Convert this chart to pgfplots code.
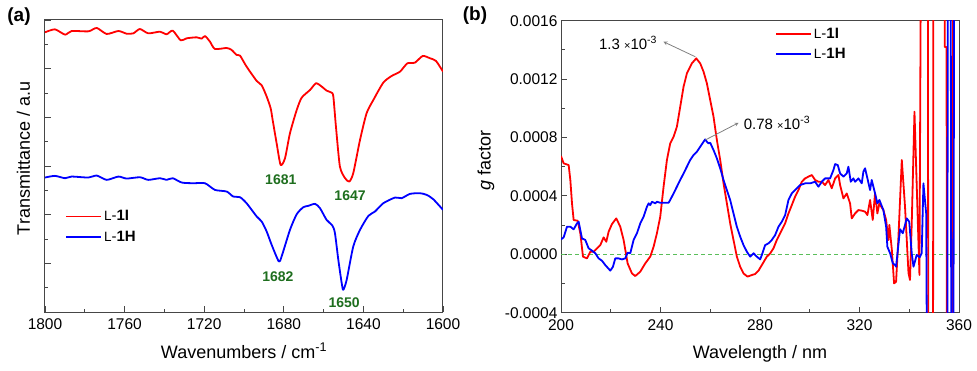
\documentclass[border=0pt]{standalone}
\usepackage{fontspec}
\setmainfont{Liberation Sans}
\usepackage{pgfplots}
\pgfplotsset{compat=1.18}
\definecolor{peakgreen}{RGB}{30,110,30}
\definecolor{zerogreen}{RGB}{90,190,90}
\definecolor{framegray}{RGB}{70,70,70}
\pgfplotsset{
  spec/.style={
    scale only axis, width=398pt, height=292pt, anchor=south west,
    tick align=inside, tick pos=left,
    major tick length=6pt, minor tick length=3.5pt,
    axis line style={framegray, line width=1pt},
    tick style={framegray, line width=0.8pt},
    minor x tick num=1, minor y tick num=1,
    tick label style={font=\fontsize{15.5}{18}\selectfont},
    xticklabel style={yshift=-3pt},
    label style={font=\fontsize{18}{21}\selectfont},
    /pgf/number format/assume math mode=true,
    /pgf/number format/1000 sep={},
    legend style={draw=none, fill=none, font=\fontsize{15}{17}\selectfont, row sep=4.5pt, anchor=north west},
    legend cell align=left,
    legend image code/.code={\draw[##1] (0pt,0pt) -- (35pt,0pt);},
    every axis plot/.append style={line width=1.8pt, line join=round},
  },
}
\newcommand{\LI}{{\fontsize{13.5}{15}\selectfont L}-\textbf{1I}}
\newcommand{\LH}{{\fontsize{13.5}{15}\selectfont L}-\textbf{1H}}
\begin{document}
\begin{tikzpicture}
\useasboundingbox (0pt,0pt) rectangle (977pt,370pt);
% (a) FTIR
\begin{axis}[spec, at={(45pt,58pt)},
  xmin=1600, xmax=1800, x dir=reverse,
  ymin=0, ymax=6,
  xtick={1600,1640,...,1800},
  ytick={0,1,...,6}, yticklabels={,,,,,,},
  xlabel={Wavenumbers / cm\textsuperscript{-1}},
  ylabel={Transmittance / a.u},
  xlabel style={at={(axis description cs:0.5,-0.158)}, anchor=base},
  ylabel style={at={(axis description cs:-0.038,0.526)}, anchor=base},
  legend style={at={(0.043,0.362)}},
]
\addplot[red, smooth, tension=0.4] coordinates {
(1800,5.747) (1795.0,5.808) (1789.9,5.699) (1786.6,5.774) (1778.2,5.767) (1774.0,5.836)
(1769.0,5.713) (1763.1,5.774) (1759.0,5.719) (1755.6,5.726) (1752.3,5.815) (1748.1,5.726)
(1742.2,5.760) (1738.9,5.706) (1735.8,5.781) (1731.8,5.582) (1728.8,5.624) (1723.8,5.644)
(1721.3,5.617) (1719.6,5.671) (1717.1,5.555) (1714.6,5.405) (1708.7,5.425) (1706.2,5.384)
(1703.7,5.281) (1702.0,5.268) (1698.7,5.042) (1693.6,4.747) (1691.1,4.658) (1688.6,4.426)
(1686.6,4.186) (1685.6,3.946) (1683.6,3.467) (1681.6,3.023) (1679.4,3.159) (1676.9,3.673)
(1673.5,4.152) (1671.0,4.405) (1666.8,4.563) (1663.8,4.700) (1660.9,4.631) (1658.5,4.549)
(1656.0,4.508) (1655.1,4.426) (1653.8,3.810) (1651.8,2.988) (1649.2,2.749) (1647.1,2.680)
(1645.1,2.851) (1641.7,3.536) (1638.4,4.084) (1635.0,4.357) (1630.0,4.713) (1625.8,4.850)
(1621.6,4.939) (1617.9,5.110) (1614.1,5.124) (1610.2,5.261) (1606.5,5.213) (1603.5,5.158)
(1600,4.939)};
\addlegendentry{\LI}
\addplot[blue, smooth, tension=0.4] coordinates {
(1800,2.763) (1795.0,2.797) (1789.9,2.749) (1786.6,2.783) (1778.2,2.763) (1774.0,2.804)
(1769.0,2.715) (1763.1,2.783) (1759.0,2.742) (1752.3,2.769) (1748.1,2.715) (1742.2,2.749)
(1738.9,2.715) (1735.8,2.749) (1731.3,2.660) (1725.5,2.646) (1719.6,2.646) (1714.6,2.509)
(1708.7,2.475) (1705.4,2.372) (1702.0,2.359) (1698.7,2.235) (1693.6,1.962) (1691.1,1.859)
(1688.6,1.654) (1686.1,1.380) (1682.5,1.038) (1681.1,1.140) (1676.9,1.688) (1673.5,2.010)
(1670.2,2.153) (1667.7,2.181) (1664.3,2.222) (1661.8,2.133) (1658.5,1.893) (1655.6,1.777)
(1654.3,1.620) (1652.6,1.072) (1650.9,0.593) (1650.1,0.456) (1648.4,0.661) (1645.1,1.346)
(1641.7,1.688) (1637.5,1.975) (1634.2,2.064) (1630.0,2.235) (1624.1,2.352) (1620.8,2.338)
(1616.6,2.427) (1611.6,2.441) (1608.2,2.407) (1604.9,2.318) (1600,2.099)};
\addlegendentry{\LH}
\node[peakgreen, font=\fontsize{14}{16}\selectfont\bfseries] at (axis cs:1681.5,2.715) {1681};
\node[peakgreen, font=\fontsize{14}{16}\selectfont\bfseries] at (axis cs:1646.7,2.386) {1647};
\node[peakgreen, font=\fontsize{14}{16}\selectfont\bfseries] at (axis cs:1683,0.729) {1682};
\node[peakgreen, font=\fontsize{14}{16}\selectfont\bfseries] at (axis cs:1649.7,0.195) {1650};
\end{axis}
% (b) g factor
\begin{axis}[spec, at={(561pt,57.3pt)},
  xmin=200, xmax=360, ymin=-0.0004, ymax=0.0016,
  xtick={200,240,...,360},
  ytick={-0.0004,0,0.0004,0.0008,0.0012,0.0016},
  scaled y ticks=false,
  yticklabel style={/pgf/number format/.cd, fixed, fixed zerofill, precision=4},
  xlabel={Wavelength / nm},
  ylabel={\textit{g} factor},
  xlabel style={at={(axis description cs:0.5,-0.158)}, anchor=base},
  ylabel style={at={(axis description cs:-0.177,0.52)}, anchor=base},
  legend style={at={(0.530,0.99)}},
]
\addplot[zerogreen, line width=0.9pt, dash pattern=on 4pt off 3pt, forget plot] coordinates {(200,0) (360,0)};
\addplot[red] coordinates {
(200.0,6.73e-4) (201.07,6.23e-4) (203.08,6.11e-4) (203.75,5.09e-4) (204.42,3.49e-4) (205.09,2.35e-4)
(206.69,2.30e-4) (207.77,1.44e-4) (208.84,-0.16e-4) (210.44,-0.28e-4) (211.78,0.18e-4) (213.12,0.18e-4)
(214.46,0.41e-4) (215.80,0.63e-4) (217.14,1.16e-4) (218.21,0.86e-4) (219.15,1.55e-4) (220.48,2.07e-4)
(222.22,2.46e-4) (223.83,1.89e-4) (225.17,0.98e-4) (226.78,-0.62e-4) (228.52,-1.31e-4) (229.86,-1.49e-4)
(231.87,-1.19e-4) (233.87,-0.62e-4) (235.88,-0.16e-4) (237.22,0.52e-4) (238.56,1.44e-4) (239.90,2.58e-4)
(241.24,4.63e-4) (242.58,6.46e-4) (243.91,7.60e-4) (245.25,8.05e-4) (246.59,8.74e-4) (247.93,10.11e-4)
(249.27,11.48e-4) (250.61,12.39e-4) (252.62,13.08e-4) (254.36,13.42e-4) (255.96,13.08e-4) (257.30,12.51e-4)
(258.64,11.71e-4) (259.98,10.57e-4) (261.32,9.42e-4) (262.66,7.83e-4) (264.00,6.46e-4) (265.34,4.86e-4)
(266.68,3.49e-4) (268.01,2.12e-4) (269.35,0.98e-4) (270.69,-0.16e-4) (272.03,-0.85e-4) (273.37,-1.31e-4)
(274.98,-1.53e-4) (276.72,-1.42e-4) (278.06,-1.35e-4) (279.40,-1.12e-4) (280.73,-0.74e-4) (282.74,-0.16e-4)
(284.08,0.06e-4) (285.42,0.41e-4) (286.76,0.98e-4) (288.10,1.44e-4) (290.11,2.12e-4) (291.44,2.80e-4)
(292.78,3.37e-4) (294.12,3.95e-4) (295.46,4.40e-4) (296.80,4.97e-4) (298.14,5.20e-4) (299.48,5.32e-4)
(300.82,5.43e-4) (302.16,5.09e-4) (303.49,4.97e-4) (304.83,4.97e-4) (306.17,4.74e-4) (307.51,5.09e-4)
(308.85,4.52e-4) (310.19,5.20e-4) (311.53,5.43e-4) (312.20,4.74e-4) (313.54,3.83e-4) (314.87,4.17e-4)
(316.21,3.49e-4) (316.88,2.46e-4) (318.22,2.80e-4) (319.56,3.03e-4) (320.90,2.99e-4) (322.24,2.92e-4)
(323.18,2.69e-4) (324.25,3.72e-4) (325.32,2.35e-4) (326.25,4.17e-4) (327.19,2.80e-4) (327.99,3.49e-4)
(328.3,3.38e-4) (329.6,3.03e-4) (330.7,2.35e-4) (331.6,0.98e-4) (332.0,2.01e-4) (333.0,0.30e-4)
(333.9,-1.99e-4) (334.7,-1.88e-4) (335.6,0.98e-4) (337.0,6.46e-4) (338.3,3.26e-4) (339.7,-1.30e-4)
(340.3,-1.76e-4) (341.0,2.12e-4) (342.1,9.77e-4) (344.1,-1.42e-4) (345.2,40e-4) (347.4,40e-4)
(347.7,-20e-4) (349.5,-20e-4) (349.8,40e-4) (354.3,40e-4) (354.3,14.2e-4) (355.0,14.2e-4)
(355.2,-20e-4) (357.4,-20e-4) (357.7,40e-4) (360,40e-4)};
\addlegendentry{\LI}
\addplot[blue] coordinates {
(200.0,1.02e-4) (201.07,1.16e-4) (202.41,1.89e-4) (203.75,1.89e-4) (205.09,1.71e-4) (206.43,2.12e-4)
(207.10,2.23e-4) (207.77,1.66e-4) (208.43,1.09e-4) (209.77,0.98e-4) (211.11,0.41e-4) (212.45,0.25e-4)
(213.79,0.07e-4) (215.13,-0.28e-4) (216.47,-0.44e-4) (217.81,-0.74e-4) (219.82,-1.12e-4) (220.89,-0.85e-4)
(221.82,-0.28e-4) (223.16,-0.28e-4) (224.50,-0.35e-4) (225.84,-0.28e-4) (226.78,0.11e-4) (227.85,0.07e-4)
(229.19,0.98e-4) (230.53,1.44e-4) (231.87,2.12e-4) (233.20,2.58e-4) (234.54,3.26e-4) (235.21,3.49e-4)
(235.88,3.37e-4) (236.55,3.60e-4) (237.89,3.49e-4) (238.56,3.60e-4) (239.90,3.53e-4) (241.91,3.53e-4)
(243.24,3.53e-4) (243.91,3.72e-4) (245.25,4.17e-4) (246.59,4.63e-4) (247.93,5.09e-4) (249.27,5.54e-4)
(250.61,6.00e-4) (251.95,6.46e-4) (253.29,6.80e-4) (254.63,7.03e-4) (255.96,7.37e-4) (257.30,7.71e-4)
(257.97,7.87e-4) (258.64,7.71e-4) (259.31,7.60e-4) (259.98,7.64e-4) (261.32,7.14e-4) (262.66,6.57e-4)
(264.00,5.89e-4) (265.34,5.09e-4) (266.68,4.40e-4) (268.01,3.72e-4) (269.35,2.80e-4) (270.69,1.89e-4)
(272.03,1.21e-4) (273.37,0.63e-4) (274.71,0.18e-4) (276.05,-0.16e-4) (277.39,0.07e-4) (278.73,-0.16e-4)
(280.07,-0.35e-4) (280.73,-0.05e-4) (282.07,0.63e-4) (283.41,0.75e-4) (284.75,0.98e-4) (286.09,1.32e-4)
(287.43,1.89e-4) (288.77,2.23e-4) (290.11,2.69e-4) (291.44,3.72e-4) (292.78,4.17e-4) (294.12,4.40e-4)
(296.13,4.74e-4) (298.14,4.86e-4) (300.15,4.86e-4) (302.16,4.97e-4) (303.49,4.63e-4) (304.83,4.97e-4)
(306.17,5.20e-4) (308.18,5.20e-4) (309.52,5.77e-4) (310.19,6.18e-4) (311.26,6.11e-4) (312.20,5.54e-4)
(313.54,5.32e-4) (314.87,5.54e-4) (315.54,6.00e-4) (316.48,4.97e-4) (317.55,5.20e-4) (318.22,4.97e-4)
(319.56,5.20e-4) (320.90,4.86e-4) (321.57,5.66e-4) (322.24,5.89e-4) (323.18,5.20e-4) (324.25,4.40e-4)
(324.92,5.09e-4) (326.25,4.17e-4) (327.19,3.49e-4) (327.99,3.72e-4) (329.6,3.03e-4) (330.7,1.89e-4)
(331.2,0.52e-4) (332.3,0.07e-4) (333.4,-0.62e-4) (334.3,-0.73e-4) (334.7,-0.85e-4) (336.3,1.72e-4)
(337.4,1.44e-4) (339.0,2.46e-4) (340.0,2.23e-4) (341.0,0.07e-4) (341.7,-0.85e-4) (343.0,-0.04e-4)
(344.2,-0.20e-4) (345.0,0.07e-4) (345.7,4.86e-4) (346.8,2.80e-4) (347.5,-20e-4) (355.2,-20e-4)
(355.7,40e-4) (356.5,40e-4) (357.0,-20e-4) (357.6,-20e-4) (358.3,40e-4) (360,40e-4)};
\addlegendentry{\LH}
\draw[-stealth, gray, line width=0.8pt] (axis cs:254.0,13.53e-4) -- (axis cs:241.2,14.56e-4);
\draw[-stealth, gray, line width=0.8pt] (axis cs:258.0,7.83e-4) -- (axis cs:271.4,9.01e-4);
\node[anchor=base east, inner sep=0pt, font=\fontsize{15}{17}\selectfont] at (axis cs:238.7,14.06e-4) {1.3 {\fontsize{11}{12}\selectfont ×}10\textsuperscript{-3}};
\node[anchor=base west, inner sep=0pt, font=\fontsize{15}{17}\selectfont] at (axis cs:273.4,8.58e-4) {0.78 {\fontsize{11}{12}\selectfont ×}10\textsuperscript{-3}};
\end{axis}
\node[font=\fontsize{19}{22}\selectfont\bfseries] at (19pt,353pt) {(a)};
\node[font=\fontsize{19}{22}\selectfont\bfseries] at (475pt,354pt) {(b)};
\end{tikzpicture}
\end{document}
